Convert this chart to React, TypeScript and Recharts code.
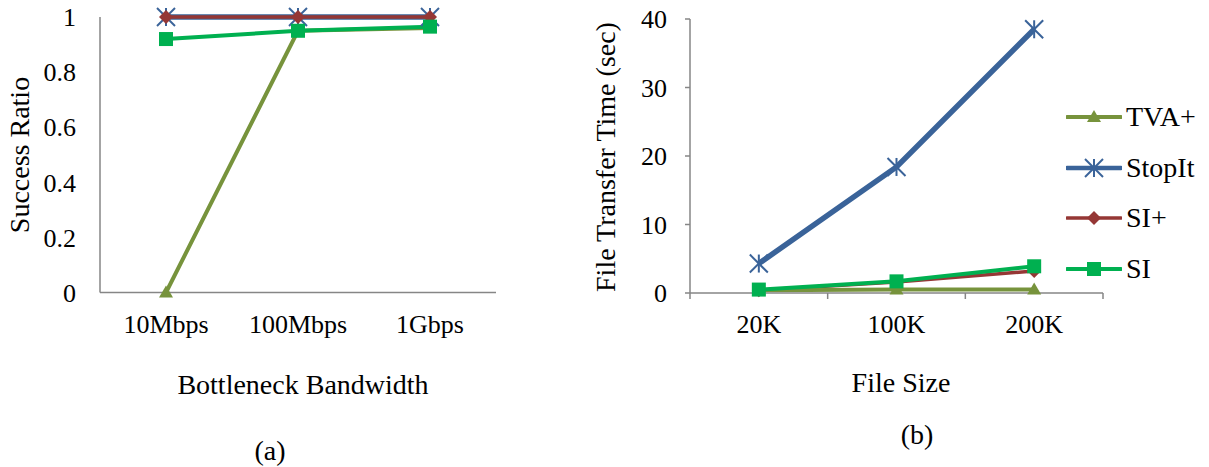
import React from 'react';
import { LineChart, Line, XAxis, YAxis, Legend } from 'recharts';

// ---- data ----
const bandwidths = ['10Mbps', '100Mbps', '1Gbps'];
const ratioTVA = [0, 0.95, 0.96];
const ratioStopIt = [1, 1, 1];
const ratioSIPlus = [1, 1, 1];
const ratioSI = [0.92, 0.95, 0.965];
const ratioTicks = [0, 0.2, 0.4, 0.6, 0.8, 1];

const fileSizes = ['20K', '100K', '200K'];
const timeTVA = [0.4, 0.5, 0.5];
const timeStopIt = [4.3, 18.4, 38.5];
const timeSIPlus = [0.4, 1.6, 3.2];
const timeSI = [0.5, 1.7, 3.9];
const timeTicks = [0, 10, 20, 30, 40];

const FONT = '"Liberation Serif", "Times New Roman", serif';
const AXIS = '#868686';

type Kind = 'triangle' | 'star' | 'diamond' | 'square';
interface SeriesDef {
  name: string;
  color: string;
  kind: Kind;
  width: number;
}

// legend order
const SERIES: SeriesDef[] = [
  { name: 'TVA+', color: '#77933C', kind: 'triangle', width: 4 },
  { name: 'StopIt', color: '#3A6399', kind: 'star', width: 5.5 },
  { name: 'SI+', color: '#953735', kind: 'diamond', width: 3.5 },
  { name: 'SI', color: '#00B050', kind: 'square', width: 4 },
];
// paint order (last on top)
const drawOrder = ['StopIt', 'SI+', 'TVA+', 'SI'];
const byName = (n: string) => SERIES.find((s) => s.name === n)!;

const ratioData = bandwidths.map((b, i) => ({
  cat: b,
  'TVA+': ratioTVA[i],
  StopIt: ratioStopIt[i],
  'SI+': ratioSIPlus[i],
  SI: ratioSI[i],
}));

const timeData = fileSizes.map((f, i) => ({
  cat: f,
  'TVA+': timeTVA[i],
  StopIt: timeStopIt[i],
  'SI+': timeSIPlus[i],
  SI: timeSI[i],
}));

function Marker({ kind, cx, cy, color }: { kind: Kind; cx?: number; cy?: number; color: string }) {
  if (cx == null || cy == null) return null;
  if (kind === 'triangle') {
    return <polygon points={`${cx},${cy - 7} ${cx + 7},${cy + 5} ${cx - 7},${cy + 5}`} fill={color} />;
  }
  if (kind === 'star') {
    const r = 9;
    return (
      <g stroke={color} strokeWidth={2}>
        <line x1={cx - r} y1={cy - r} x2={cx + r} y2={cy + r} />
        <line x1={cx - r} y1={cy + r} x2={cx + r} y2={cy - r} />
        <line x1={cx} y1={cy - r} x2={cx} y2={cy + r} />
      </g>
    );
  }
  if (kind === 'diamond') {
    const r = 7;
    return <polygon points={`${cx},${cy - r} ${cx + r},${cy} ${cx},${cy + r} ${cx - r},${cy}`} fill={color} />;
  }
  return <rect x={cx - 7} y={cy - 7} width={14} height={14} fill={color} />;
}

function renderLines() {
  return drawOrder.map((n) => {
    const s = byName(n);
    return (
      <Line
        key={n}
        type="linear"
        dataKey={n}
        name={n}
        stroke={s.color}
        strokeWidth={s.width}
        isAnimationActive={false}
        activeDot={false}
        dot={(p: any) => <Marker key={`${n}-${p.index}`} kind={s.kind} cx={p.cx} cy={p.cy} color={s.color} />}
      />
    );
  });
}

// chart (a) geometry
const A_W = 510;
const A_H = 350;
const A_PLOT_W = 396;
// chart (b) geometry
const B_W = 629;
const B_H = 350;
const B_PLOT_W = 413;
const X_GAP = 22;

function SizeTick(props: any) {
  const { x, y, payload, index, visibleTicksCount, width } = props;
  const n = visibleTicksCount || fileSizes.length;
  const band = (typeof width === 'number' ? width : B_PLOT_W) / n;
  const top = y - X_GAP;
  return (
    <g>
      <line x1={x - band / 2} x2={x - band / 2} y1={top} y2={top + 6} stroke={AXIS} strokeWidth={1.5} />
      {index === n - 1 && (
        <line x1={x + band / 2} x2={x + band / 2} y1={top} y2={top + 6} stroke={AXIS} strokeWidth={1.5} />
      )}
      <text x={x} y={y} dy="0.71em" textAnchor="middle" fontSize={26} fill="#000" fontFamily={FONT}>
        {payload.value}
      </text>
    </g>
  );
}

function LegendBox() {
  return (
    <div style={{ fontFamily: FONT }}>
      {SERIES.map((s) => (
        <div key={s.name} style={{ display: 'flex', alignItems: 'center', height: 50.6 }}>
          <svg width={56} height={30} style={{ display: 'block' }}>
            <line x1={1} x2={55} y1={15} y2={15} stroke={s.color} strokeWidth={Math.min(s.width, 4.5)} strokeLinecap="round" />
            <Marker kind={s.kind} cx={28} cy={15} color={s.color} />
          </svg>
          <span style={{ fontSize: 28, marginLeft: 4, color: '#000', lineHeight: '32px' }}>{s.name}</span>
        </div>
      ))}
    </div>
  );
}

function Title({ text, cx, cy, rotate }: { text: string; cx: number; cy: number; rotate?: boolean }) {
  const w = 400;
  const h = 32;
  return (
    <div
      style={{
        position: 'absolute',
        left: cx - w / 2,
        top: cy - h / 2,
        width: w,
        height: h,
        lineHeight: `${h}px`,
        fontSize: 28,
        textAlign: 'center',
        whiteSpace: 'nowrap',
        color: '#000',
        transform: rotate ? 'rotate(-90deg)' : undefined,
      }}
    >
      {text}
    </div>
  );
}

export default function App() {
  const tickStyle = { fill: '#000', fontSize: 26, fontFamily: FONT };
  return (
    <div
      style={{
        position: 'absolute',
        left: 0,
        top: 0,
        width: 1209,
        height: 467,
        background: '#fff',
        fontFamily: FONT,
        overflow: 'hidden',
      }}
    >
      {/* (a) success ratio */}
      <div style={{ position: 'absolute', left: 0, top: 0 }}>
        <LineChart width={A_W} height={A_H} data={ratioData} margin={{ top: 17, right: 14, left: 0, bottom: 7.5 }}>
          <XAxis
            dataKey="cat"
            height={50}
            axisLine={{ stroke: AXIS, strokeWidth: 1.5 }}
            tickLine={false}
            tickSize={0}
            tickMargin={X_GAP}
            tick={tickStyle}
            interval={0}
            padding={{ left: A_PLOT_W / bandwidths.length / 2, right: A_PLOT_W / bandwidths.length / 2 }}
          />
          <YAxis
            width={100}
            domain={[0, 1]}
            ticks={ratioTicks}
            axisLine={{ stroke: AXIS, strokeWidth: 1.5 }}
            tickLine={false}
            tickSize={0}
            tickMargin={24}
            tick={tickStyle}
            interval={0}
          />
          {renderLines()}
        </LineChart>
      </div>

      {/* (b) file transfer time */}
      <div style={{ position: 'absolute', left: 580, top: 0 }}>
        <LineChart width={B_W} height={B_H} data={timeData} margin={{ top: 19, right: 106, left: 0, bottom: 7 }}>
          <XAxis
            dataKey="cat"
            height={50}
            axisLine={{ stroke: AXIS, strokeWidth: 1.5 }}
            tickLine={false}
            tickSize={0}
            tickMargin={X_GAP}
            tick={<SizeTick />}
            interval={0}
            padding={{ left: B_PLOT_W / fileSizes.length / 2, right: B_PLOT_W / fileSizes.length / 2 }}
          />
          <YAxis
            width={110}
            domain={[0, 40]}
            ticks={timeTicks}
            stroke={AXIS}
            axisLine={{ stroke: AXIS, strokeWidth: 1.5 }}
            tickLine={{ stroke: AXIS, strokeWidth: 1.5 }}
            tickSize={5}
            tickMargin={18}
            tick={tickStyle}
            interval={0}
          />
          {renderLines()}
          <Legend
            layout="vertical"
            align="center"
            verticalAlign="middle"
            content={() => <LegendBox />}
            wrapperStyle={{ left: 486, top: 92, width: 143 }}
          />
        </LineChart>
      </div>

      <Title text="Success Ratio" cx={20} cy={155} rotate />
      <Title text="Bottleneck Bandwidth" cx={303} cy={385} />
      <Title text="(a)" cx={270} cy={451} />

      <Title text="File Transfer Time (sec)" cx={606} cy={157} rotate />
      <Title text="File Size" cx={901} cy={383} />
      <Title text="(b)" cx={917} cy={435} />
    </div>
  );
}
